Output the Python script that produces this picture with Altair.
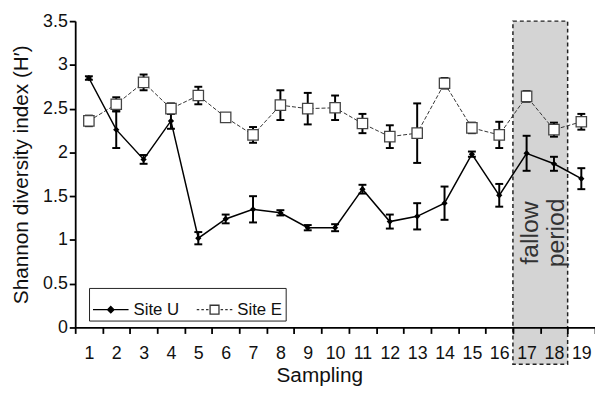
import altair as alt
import pandas as pd

samples = list(range(1, 20))
u_mean = [2.85, 2.26, 1.92, 2.36, 1.02, 1.24, 1.35, 1.31, 1.14, 1.14, 1.58, 1.21, 1.27, 1.42, 1.98, 1.51, 1.99, 1.87, 1.70]
u_err = [0.02, 0.21, 0.05, 0.09, 0.07, 0.05, 0.15, 0.03, 0.03, 0.04, 0.05, 0.08, 0.15, 0.19, 0.03, 0.13, 0.20, 0.08, 0.12]
e_mean = [2.36, 2.55, 2.80, 2.50, 2.65, 2.40, 2.20, 2.54, 2.50, 2.51, 2.33, 2.18, 2.22, 2.79, 2.28, 2.20, 2.64, 2.26, 2.35]
e_err = [0.06, 0.08, 0.09, 0.06, 0.10, 0.01, 0.09, 0.17, 0.18, 0.14, 0.11, 0.13, 0.34, 0.06, 0.06, 0.15, 0.06, 0.08, 0.09]
sites = ["Site U", "Site E"]
fallow = {"start": 17, "end": 18, "top": 3.5, "bottom": -0.42, "label": "fallow\nperiod", "label_y": 1.08}

rows = []
for s, m, e in zip(samples, u_mean, u_err):
    rows.append({"site": "Site U", "sample": s, "mean": m, "lo": m - e, "hi": m + e})
for s, m, e in zip(samples, e_mean, e_err):
    rows.append({"site": "Site E", "sample": s, "mean": m, "lo": m - e, "hi": m + e})
df = pd.DataFrame(rows)
fdf = pd.DataFrame([fallow])

FONT = "Liberation Sans"

xscale = alt.Scale(paddingInner=0, paddingOuter=0, domain=samples)
xaxis = alt.Axis(labelAngle=0, tickBand="extent", zindex=1, labelPadding=11,
                 titlePadding=3, titleX=247)
x = alt.X("sample:O", scale=xscale, title="Sampling", axis=xaxis)
yscale = alt.Scale(domain=[0, 3.5], nice=False, zero=False)
yaxis = alt.Axis(values=[0, 0.5, 1, 1.5, 2, 2.5, 3, 3.5], format="~g",
                 labelPadding=2, titlePadding=11)
YT = "Shannon diversity index (H′)"
y = alt.Y("mean:Q", scale=yscale, title=YT, axis=yaxis)

base = alt.Chart(df)

rect = alt.Chart(fdf).mark_rect(fill="#d4d4d4", stroke="#222", strokeWidth=1.5,
                                strokeDash=[4, 3]).encode(
    x=alt.X("start:O", scale=xscale, bandPosition=0, title="Sampling", axis=xaxis),
    x2=alt.X2("end", bandPosition=1),
    y=alt.Y("top:Q", scale=yscale, title=YT, axis=yaxis),
    y2="bottom:Q",
)
label = alt.Chart(fdf).mark_text(angle=270, fontSize=25, font=FONT, color="#333",
                                 lineBreak="\n", lineHeight=26, align="center",
                                 baseline="middle", dy=-10).encode(
    x=alt.X("start:O", scale=xscale, bandPosition=1, title="Sampling", axis=xaxis),
    y=alt.Y("label_y:Q", scale=yscale, title=YT, axis=yaxis),
    text="label:N",
)

line_e = base.transform_filter(alt.datum.site == "Site E").mark_line(
    color="#333", strokeWidth=1, strokeDash=[4, 2]).encode(x=x, y=y)
line_u = base.transform_filter(alt.datum.site == "Site U").mark_line(
    color="black", strokeWidth=1.5).encode(x=x, y=y)
rules = base.mark_rule(color="black", strokeWidth=2).encode(
    x=x, y=alt.Y("lo:Q", scale=yscale, title=YT, axis=yaxis), y2="hi:Q")
cap_lo = base.mark_tick(color="black", thickness=2, size=8, orient="horizontal", opacity=1).encode(
    x=x, y=alt.Y("lo:Q", scale=yscale, title=YT, axis=yaxis))
cap_hi = base.mark_tick(color="black", thickness=2, size=8, orient="horizontal", opacity=1).encode(
    x=x, y=alt.Y("hi:Q", scale=yscale, title=YT, axis=yaxis))
pts_u = base.transform_filter(alt.datum.site == "Site U").mark_point(
    shape="diamond", filled=True, color="black", size=40, opacity=1).encode(x=x, y=y)
pts_e = base.transform_filter(alt.datum.site == "Site E").mark_point(
    shape="square", filled=True, fill="white", stroke="#444", strokeWidth=1.3,
    size=110, opacity=1).encode(x=x, y=y)

path_u = "M-1,0L1,0M0,-0.18L0.18,0L0,0.18L-0.18,0Z"
path_e = ("M-1,0L-0.86,0M-0.74,0L-0.6,0M-0.48,0L-0.34,0"
          "M0.34,0L0.48,0M0.6,0L0.74,0M0.86,0L1,0"
          "M-0.25,-0.25L0.25,-0.25L0.25,0.25L-0.25,0.25Z")

leg_props = dict(title=None, orient="none", legendX=14, legendY=270, direction="horizontal",
                 symbolSize=1296, symbolStrokeColor="black", symbolStrokeWidth=1.3,
                 labelFontSize=17, labelFont=FONT, labelColor="#111", strokeColor="#222",
                 padding=3, columnPadding=14, labelOffset=4)

legend_layer = base.transform_filter("false").mark_point(
    filled=False, strokeWidth=1.3, opacity=1).encode(
    x=x, y=y,
    shape=alt.Shape("site:N", scale=alt.Scale(domain=sites, range=[path_u, path_e]),
                    legend=alt.Legend(**leg_props)),
    fill=alt.Fill("site:N", scale=alt.Scale(domain=sites, range=["black", "white"]),
                  legend=alt.Legend(**leg_props)),
    stroke=alt.Stroke("site:N", scale=alt.Scale(domain=sites, range=["black", "#333"]),
                      legend=alt.Legend(**leg_props)),
)

chart = alt.layer(rect, label, line_e, line_u, rules, cap_lo, cap_hi, pts_e, pts_u,
                  legend_layer).properties(
    width=526, height=310,
    autosize=alt.AutoSizeParams(type="none"),
    padding={"left": 68, "top": 11, "right": 0, "bottom": 62},
).configure_view(stroke=None).configure_axis(
    grid=False, domainColor="black", domainWidth=1.8, tickColor="black", tickWidth=1.8,
    tickSize=6, labelColor="#111", labelFontSize=18, labelFont=FONT,
    titleFont=FONT, titleFontSize=21, titleFontWeight="normal", titleColor="#111",
).configure_axisX(
    labelPadding=11, titlePadding=3, tickBand="extent", zindex=1,
).configure_axisY(
    labelPadding=2, titlePadding=11,
)

chart.save("out.html", embed_options={"renderer": "svg", "actions": False})
